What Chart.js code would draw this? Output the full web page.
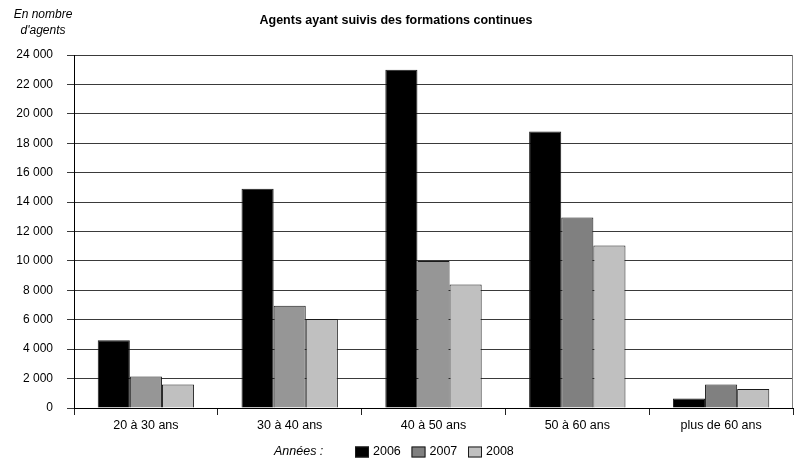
<!DOCTYPE html>
<html>
<head>
<meta charset="utf-8">
<script src="https://cdn.jsdelivr.net/npm/chart.js@4/dist/chart.umd.min.js"></script>
<style>
  html, body { margin: 0; padding: 0; background: #fff; }
  #wrap { width: 799px; height: 462px; position: relative; }
</style>
</head>
<body>
<div id="wrap"><canvas id="c" width="799" height="462"></canvas></div>
<script>
// Age groups and yearly counts of agents who followed continuing training
const categories = ['20 à 30 ans', '30 à 40 ans', '40 à 50 ans', '50 à 60 ans', 'plus de 60 ans'];
const years = ['2006', '2007', '2008'];
const values2006 = [4600, 14900, 23000, 18800, 650];
const values2007 = [2150, 6950, 10000, 12950, 1600];
const values2008 = [1600, 6050, 8400, 11050, 1300];
const yTickLabels = ['0', '2 000', '4 000', '6 000', '8 000', '10 000', '12 000',
                     '14 000', '16 000', '18 000', '20 000', '22 000', '24 000'];

const titleText = 'Agents ayant suivis des formations continues';
const unitLines = ['En nombre', "d'agents"];
const legendTitle = 'Années :';

const FONT = '"Liberation Sans", Arial, sans-serif';
const fill2007 = ['#969696', '#969696', '#969696', '#808080', '#808080'];
const swatches = ['#000000', '#808080', '#c0c0c0'];

// Title, unit caption, frame and the custom bottom legend
const decorations = {
  id: 'decorations',
  afterDraw(chart) {
    const ctx = chart.ctx;
    const a = chart.chartArea;
    ctx.save();
    // frame: right edge
    ctx.strokeStyle = '#808080';
    ctx.lineWidth = 1;
    ctx.beginPath();
    ctx.moveTo(Math.round(a.right) - 0.5, a.top);
    ctx.lineTo(Math.round(a.right) - 0.5, a.bottom);
    ctx.stroke();

    ctx.fillStyle = '#000';
    ctx.textBaseline = 'middle';
    ctx.textAlign = 'center';
    ctx.font = 'bold 12.5px ' + FONT;
    ctx.fillText(titleText, 396, 21);

    ctx.font = 'italic 12px ' + FONT;
    ctx.fillText(unitLines[0], 43, 15);
    ctx.fillText(unitLines[1], 43, 31);

    // legend
    const ly = 452;
    ctx.font = 'italic 12.5px ' + FONT;
    ctx.textAlign = 'left';
    ctx.fillText(legendTitle, 274, ly);
    ctx.font = '12.5px ' + FONT;
    let x = 355;
    chart.data.datasets.forEach((ds, i) => {
      ctx.fillStyle = swatches[i];
      ctx.fillRect(x, ly - 5.5, 14, 11);
      ctx.strokeStyle = '#1a1a1a';
      ctx.strokeRect(x + 0.5, ly - 5.5 + 0.5, 13, 10);
      ctx.fillStyle = '#000';
      ctx.fillText(ds.label, x + 18, ly);
      x += 56.5;
    });
    ctx.restore();
  }
};

new Chart(document.getElementById('c'), {
  type: 'bar',
  data: {
    labels: categories,
    datasets: [
      { label: years[0], data: values2006, backgroundColor: '#000000' },
      { label: years[1], data: values2007, backgroundColor: fill2007 },
      { label: years[2], data: values2008, backgroundColor: '#c0c0c0' }
    ].map(d => Object.assign(d, {
      borderColor: '#1a1a1a',
      borderWidth: 1,
      categoryPercentage: 0.67,
      barPercentage: 1
    }))
  },
  options: {
    responsive: false,
    animation: false,
    events: [],
    layout: { padding: { left: 0, right: 6, top: 55, bottom: 0 } },
    plugins: {
      legend: { display: false },
      title: { display: false },
      tooltip: { enabled: false }
    },
    scales: {
      x: {
        afterFit(scale) { scale.height = 54; },
        grid: {
          drawOnChartArea: false,
          drawTicks: true,
          tickLength: 7,
          offset: true,
          color: '#222'
        },
        border: { color: '#000', width: 1 },
        ticks: {
          color: '#000',
          padding: 3,
          maxRotation: 0,
          font: { family: FONT, size: 12.5 }
        }
      },
      y: {
        min: 0,
        max: 24000,
        afterFit(scale) { scale.width = 74; },
        grid: {
          color: '#3a3a3a',
          drawTicks: true,
          tickLength: 7
        },
        border: { color: '#000', width: 1 },
        ticks: {
          stepSize: 2000,
          color: '#000',
          padding: 14,
          font: { family: FONT, size: 12 },
          callback: (v, i) => yTickLabels[i]
        }
      }
    }
  },
  plugins: [decorations]
});
</script>
</body>
</html>
